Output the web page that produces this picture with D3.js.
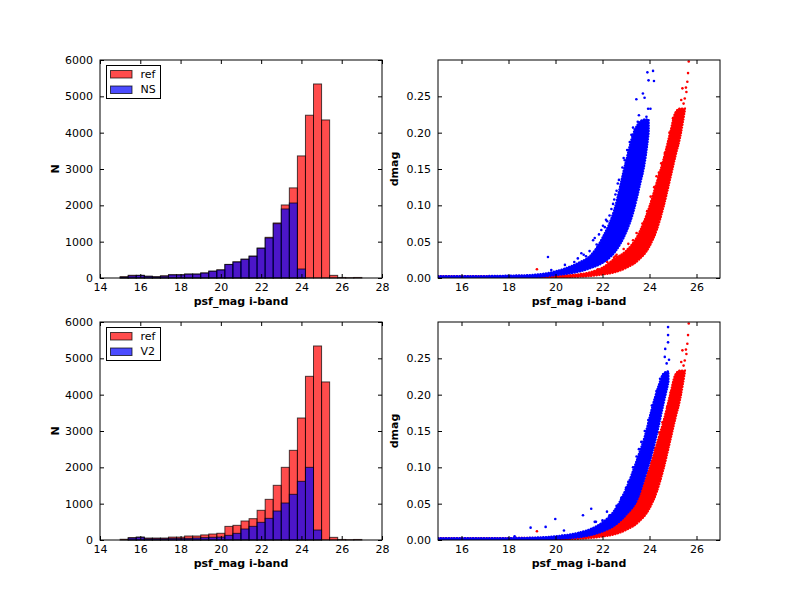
<!DOCTYPE html>
<html>
<head>
<meta charset="utf-8">
<script src="https://cdn.jsdelivr.net/npm/d3@7"></script>
<style>
  body { margin: 0; background: #fff; }
  text { font-family: "DejaVu Sans", sans-serif; }
</style>
</head>
<body>
<svg id="fig" width="800" height="600"></svg>
<script>
// histogram bins (psf_mag i-band), 0.4 mag wide
const binEdges = [15.0, 15.4, 15.8, 16.2, 16.6, 17.0, 17.4, 17.8, 18.2, 18.6, 19.0, 19.4, 19.8, 20.2, 20.6,
    21.0, 21.4, 21.8, 22.2, 22.6, 23.0, 23.4, 23.8, 24.2, 24.6, 25.0, 25.4, 25.8, 26.2, 26.6, 27.0];

// counts
const refCountsNS = [35, 75, 75, 50, 35, 60, 90, 90, 110, 110, 140, 190, 225, 375, 445,
    520, 605, 825, 1120, 1515, 2010, 2480, 3360, 4480, 5340, 4350, 73, 15, 8, 15];
const nsCounts = [25, 60, 70, 45, 30, 50, 85, 85, 105, 105, 135, 185, 220, 370, 440,
    514, 596, 817, 1101, 1495, 1900, 2064, 248, 0, 0, 0, 0, 0, 0, 0];
const refCountsV2 = [20, 65, 80, 55, 55, 55, 80, 80, 110, 110, 140, 165, 185, 375, 404,
    523, 587, 817, 1119, 1505, 2000, 2468, 3358, 4505, 5340, 4350, 73, 15, 8, 15];
const v2Counts = [0, 55, 75, 35, 35, 35, 45, 45, 45, 55, 65, 75, 80, 128, 183,
    303, 376, 486, 596, 798, 1018, 1257, 1615, 2000, 275, 0, 0, 0, 0, 0];

const histXTicks = [14, 16, 18, 20, 22, 24, 26, 28];
const histYTicks = [0, 1000, 2000, 3000, 4000, 5000, 6000];
const scatXTicks = [16, 18, 20, 22, 24, 26];
const scatYTicks = [0, 0.05, 0.10, 0.15, 0.20, 0.25];

// dense part of the dmag clouds: lower / upper edge at a given magnitude
const refBandMag = [15, 18, 20, 21, 21.5, 22, 22.5, 23, 23.5, 24, 24.3, 24.6, 24.9, 25.1, 25.3, 25.5];
const refBandLo = [0, 0, 0.0005, 0.002, 0.003, 0.005, 0.008, 0.014, 0.024, 0.044, 0.066, 0.099, 0.14, 0.168, 0.194, 0.231];
const refBandHi = [0.0025, 0.0025, 0.003, 0.005, 0.008, 0.014, 0.026, 0.037, 0.058, 0.098, 0.13, 0.163, 0.202, 0.227, 0.233, 0.233];

const nsBandMag = [15, 17, 18, 19, 20, 20.5, 21, 21.5, 22, 22.5, 23, 23.3, 23.6, 23.8, 23.96];
const nsBandLo = [0, 0, 0.0005, 0.001, 0.004, 0.006, 0.009, 0.014, 0.021, 0.035, 0.063, 0.09, 0.13, 0.16, 0.20];
const nsBandHi = [0.0025, 0.0025, 0.003, 0.004, 0.009, 0.014, 0.021, 0.031, 0.055, 0.093, 0.16, 0.197, 0.215, 0.218, 0.218];

const v2BandMag = [15, 18, 19, 20, 21, 21.5, 22, 22.5, 23, 23.5, 23.8, 24.1, 24.4, 24.6, 24.8];
const v2BandLo = [0, 0, 0.0005, 0.0015, 0.004, 0.007, 0.012, 0.02, 0.035, 0.058, 0.087, 0.119, 0.159, 0.189, 0.217];
const v2BandHi = [0.0025, 0.0025, 0.003, 0.005, 0.01, 0.015, 0.024, 0.04, 0.07, 0.113, 0.142, 0.18, 0.213, 0.229, 0.232];

// loose points outside the dense clouds [mag, dmag]
const refPtsNS = [[25.50, 0.247], [25.57, 0.256], [25.61, 0.270], [25.64, 0.282], [25.67, 0.298], [25.40, 0.261],
    [25.45, 0.240], [25.55, 0.262], [25.35, 0.245], [22.49, 0.028], [22.55, 0.030], [19.21, 0.012],
    [23.7, 0.075], [24.05, 0.112], [24.4, 0.145], [24.75, 0.180], [23.3, 0.052], [22.9, 0.040], [22.6, 0.032],
    [23.9, 0.092], [24.2, 0.125], [24.5, 0.158], [24.85, 0.200], [25.0, 0.220], [23.45, 0.062], [23.1, 0.047],
    [24.3, 0.140], [24.65, 0.172], [22.2, 0.022], [21.8, 0.012]];
const nsPts = [[23.91, 0.283], [24.15, 0.285], [23.96, 0.272], [24.19, 0.271], [23.72, 0.254], [23.44, 0.246],
    [23.79, 0.248], [23.94, 0.233], [24.04, 0.233], [23.87, 0.222], [19.68, 0.029], [22.38, 0.095],
    [22.70, 0.135], [22.77, 0.126], [23.16, 0.187], [23.23, 0.197], [23.37, 0.204], [22.02, 0.072],
    [21.95, 0.066], [21.60, 0.052], [21.67, 0.055], [21.10, 0.034], [20.40, 0.018], [19.82, 0.011],
    [22.55, 0.115], [22.90, 0.165], [21.85, 0.060], [21.30, 0.030], [21.45, 0.037], [21.75, 0.046],
    [22.10, 0.070], [22.20, 0.078], [22.30, 0.086], [22.45, 0.102], [22.60, 0.120], [22.65, 0.130],
    [22.85, 0.152], [22.95, 0.162], [23.05, 0.176], [23.30, 0.207], [23.50, 0.215], [23.55, 0.224],
    [20.80, 0.022], [20.95, 0.027], [21.20, 0.032], [22.15, 0.080], [22.50, 0.108]];
const refPtsV2 = [[25.50, 0.247], [25.57, 0.256], [25.61, 0.270], [25.64, 0.282], [25.67, 0.298], [25.40, 0.261],
    [25.45, 0.240], [25.55, 0.262], [25.35, 0.245], [19.21, 0.012], [22.3, 0.024], [23.7, 0.078],
    [24.05, 0.115], [24.4, 0.148], [24.75, 0.183], [23.3, 0.052], [22.9, 0.040], [23.9, 0.092],
    [24.2, 0.127], [24.55, 0.162], [24.9, 0.203], [23.5, 0.064], [22.6, 0.032]];
const v2Pts = [[24.79, 0.293], [24.79, 0.282], [24.79, 0.272], [24.67, 0.263], [24.65, 0.252], [24.83, 0.248],
    [24.73, 0.243], [18.94, 0.017], [19.58, 0.018], [19.99, 0.029], [20.36, 0.013], [21.17, 0.034],
    [21.52, 0.043], [21.67, 0.025], [21.72, 0.025], [22.19, 0.039], [18.26, 0.005], [23.65, 0.135],
    [23.80, 0.150], [23.45, 0.115], [23.10, 0.080], [24.30, 0.205], [22.60, 0.047], [22.80, 0.058],
    [23.00, 0.072], [23.30, 0.100], [23.55, 0.125], [23.95, 0.165], [24.10, 0.185], [24.45, 0.222],
    [22.30, 0.034], [22.00, 0.027]];

const RED = "#ff0000", BLUE = "#0000ff";
const cols = [{ x0: 100, x1: 382 }, { x0: 438, x1: 720 }];
const rows = [{ y0: 60, y1: 278 }, { y0: 322, y1: 540 }];

const svg = d3.select("#fig");
svg.append("rect").attr("width", 800).attr("height", 600).attr("fill", "#fff");

function frame(g, x, y, xTicks, yTicks, yFmt) {
    const [x0, x1] = x.range();
    const [y1, y0] = y.range();
    const styleAxis = sel => {
        sel.attr("font-size", 11).attr("font-family", "DejaVu Sans, sans-serif");
        sel.select(".domain").remove();
        sel.selectAll("text").attr("fill", "#000");
    };
    g.append("g").attr("transform", `translate(0,${y1})`)
        .call(d3.axisBottom(x).tickValues(xTicks).tickSize(-4).tickPadding(5).tickFormat(d3.format("d")))
        .call(styleAxis);
    g.append("g").attr("transform", `translate(0,${y0})`)
        .call(d3.axisTop(x).tickValues(xTicks).tickSize(-4).tickFormat(""))
        .call(styleAxis);
    g.append("g").attr("transform", `translate(${x0},0)`)
        .call(d3.axisLeft(y).tickValues(yTicks).tickSize(-4).tickPadding(7).tickFormat(yFmt))
        .call(styleAxis);
    g.append("g").attr("transform", `translate(${x1},0)`)
        .call(d3.axisRight(y).tickValues(yTicks).tickSize(-4).tickFormat(""))
        .call(styleAxis);
    g.append("rect")
        .attr("x", x0).attr("y", y0).attr("width", x1 - x0).attr("height", y1 - y0)
        .attr("fill", "none").attr("stroke", "#000").attr("stroke-width", 1);
}

function labels(col, row, xLabel, yLabel, yLabelX) {
    svg.append("text")
        .attr("x", (col.x0 + col.x1) / 2).attr("y", row.y1 + 27)
        .attr("text-anchor", "middle").attr("font-size", 11).attr("font-weight", "bold")
        .text(xLabel);
    svg.append("text")
        .attr("transform", `translate(${yLabelX},${(row.y0 + row.y1) / 2}) rotate(-90)`)
        .attr("text-anchor", "middle").attr("font-size", 11).attr("font-weight", "bold")
        .text(yLabel);
}

function histPanel(row, refCounts, otherCounts, otherName) {
    const col = cols[0];
    const x = d3.scaleLinear().domain([14, 28]).range([col.x0, col.x1]);
    const y = d3.scaleLinear().domain([0, 6000]).range([row.y1, row.y0]);
    const g = svg.append("g");

    [[refCounts, RED], [otherCounts, BLUE]].forEach(([counts, color]) => {
        g.selectAll(null)
            .data(counts.map((c, i) => ({ c, a: binEdges[i], b: binEdges[i + 1] })).filter(d => d.c > 0))
            .enter().append("rect")
            .attr("x", d => x(d.a))
            .attr("width", d => x(d.b) - x(d.a))
            .attr("y", d => y(d.c))
            .attr("height", d => y(0) - y(d.c))
            .attr("fill", color).attr("fill-opacity", 0.7)
            .attr("stroke", "#000").attr("stroke-opacity", 0.7).attr("stroke-width", 1);
    });

    frame(g, x, y, histXTicks, histYTicks, d3.format("d"));
    labels(col, row, "psf_mag i-band", "N", 58.5);

    // legend
    const lg = svg.append("g").attr("transform", `translate(${col.x0 + 6.5},${row.y0 + 5.5})`);
    lg.append("rect").attr("width", 54).attr("height", 33)
        .attr("fill", "#fff").attr("stroke", "#000").attr("stroke-width", 1);
    [["ref", RED], [otherName, BLUE]].forEach(([name, color], i) => {
        lg.append("rect").attr("x", 4).attr("y", 5 + i * 15.5).attr("width", 21.5).attr("height", 7.5)
            .attr("fill", color).attr("fill-opacity", 0.7)
            .attr("stroke", "#000").attr("stroke-opacity", 0.7);
        lg.append("text").attr("x", 34).attr("y", 12.5 + i * 15).attr("font-size", 11).text(name);
    });
}

function scatterPanel(row, sets, clipId) {
    const col = cols[1];
    const x = d3.scaleLinear().domain([15, 27]).range([col.x0, col.x1]);
    const y = d3.scaleLinear().domain([0, 0.3]).range([row.y1, row.y0]);
    const g = svg.append("g");

    svg.append("clipPath").attr("id", clipId).append("rect")
        .attr("x", col.x0).attr("y", row.y0).attr("width", col.x1 - col.x0).attr("height", row.y1 - row.y0);
    const plot = g.append("g").attr("clip-path", `url(#${clipId})`);

    const area = d3.area()
        .x(d => x(d.m)).y0(d => y(d.lo)).y1(d => y(d.hi))
        .curve(d3.curveMonotoneX);

    sets.forEach(s => {
        const band = s.mag.map((m, i) => ({ m, lo: s.lo[i], hi: s.hi[i] }));
        // dense cloud, with a dotted rim so the edge reads as markers
        plot.append("path")
            .attr("d", area(band))
            .attr("fill", s.color).attr("stroke", s.color)
            .attr("stroke-width", 2.6).attr("stroke-linecap", "round")
            .attr("stroke-dasharray", "0.1,2.6");
        plot.selectAll(null).data(s.pts).enter().append("circle")
            .attr("cx", d => x(d[0])).attr("cy", d => y(d[1])).attr("r", 1.3)
            .attr("fill", s.color);
    });

    frame(g, x, y, scatXTicks, scatYTicks, d3.format(".2f"));
    labels(col, row, "psf_mag i-band", "dmag", 398);
}

histPanel(rows[0], refCountsNS, nsCounts, "NS");
histPanel(rows[1], refCountsV2, v2Counts, "V2");

scatterPanel(rows[0], [
    { color: RED, mag: refBandMag, lo: refBandLo, hi: refBandHi, pts: refPtsNS },
    { color: BLUE, mag: nsBandMag, lo: nsBandLo, hi: nsBandHi, pts: nsPts }
], "clipTop");
scatterPanel(rows[1], [
    { color: RED, mag: refBandMag, lo: refBandLo, hi: refBandHi, pts: refPtsV2 },
    { color: BLUE, mag: v2BandMag, lo: v2BandLo, hi: v2BandHi, pts: v2Pts }
], "clipBottom");
</script>
</body>
</html>
